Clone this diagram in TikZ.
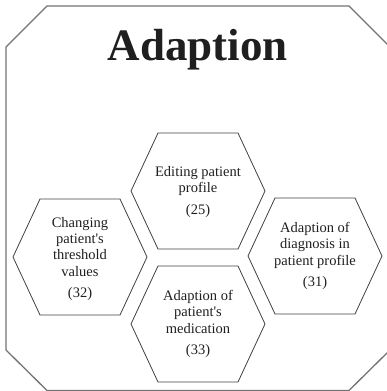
\documentclass[tikz,border=0pt]{standalone}
\usepackage{fontspec}
\setmainfont{Liberation Serif}
\usetikzlibrary{calc}
\begin{document}
\begin{tikzpicture}[x=1pt,y=-1pt,
  frame/.style={draw=black!55, line width=1.3pt, line join=miter},
  hexline/.style={draw=black!75, line width=0.8pt, line join=miter},
  hextext/.style={align=center, font=\fontsize{14.5}{16.4}\selectfont, text=black!88, inner sep=0pt},
  title/.style={font=\fontsize{45}{50}\selectfont\bfseries, text=black!88, inner sep=0pt}]
\useasboundingbox (0,0) rectangle (387,391);
\clip (0,0) rectangle (387,391);
% outer octagonal frame
\draw[frame] (47,6) -- (349,6) -- (390,47) -- (390,350) -- (349,390.5)
  -- (47,390.5) -- (6,350) -- (6,47) -- cycle;
\node[title, anchor=base] (title) at (198,60) {Adaption};
% hexagon centres
\coordinate (c25) at (198,191);
\coordinate (c32) at (80,257);
\coordinate (c31) at (315,256);
\coordinate (c33) at (198,324);
\foreach \c in {c25,c32,c31,c33}{
  \draw[hexline] (\c) ++(-67,0) -- ++(27,-58) -- ++(80,0) -- ++(27,58)
    -- ++(-27,58) -- ++(-80,0) -- cycle;
}
\node[hextext] (t25) at ($(c25)+(0,1)$) {Editing patient\\profile\\[5pt](25)};
\node[hextext] (t32) at ($(c32)+(0,2)$) {Changing\\patient\textquotesingle s\\threshold\\values\\[5pt](32)};
\node[hextext] (t31) at ($(c31)+(0,0)$) {Adaption of\\diagnosis in\\patient profile\\[5pt](31)};
\node[hextext] (t33) at ($(c33)+(0,0)$) {Adaption of\\patient\textquotesingle s\\medication\\[5pt](33)};
\end{tikzpicture}
\end{document}
